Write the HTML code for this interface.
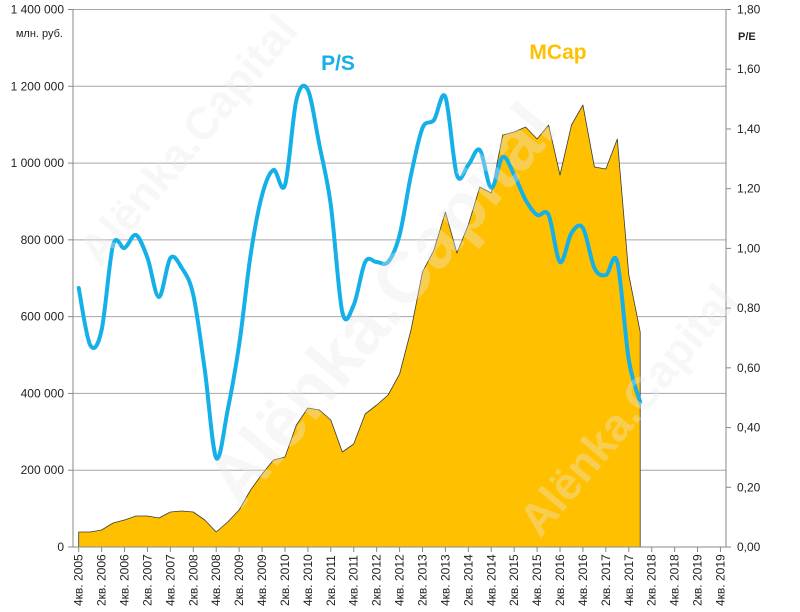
<!DOCTYPE html>
<html><head><meta charset="utf-8"><style>
body{margin:0;background:#fff;}
svg{display:block;font-family:"Liberation Sans",sans-serif;}
</style></head><body>
<svg width="800" height="612" viewBox="0 0 800 612" xmlns="http://www.w3.org/2000/svg">
<rect width="800" height="612" fill="#fff"/>
<g id="grid" stroke="#a6a6a6" stroke-width="1"></g>
<path id="mcap" fill="#ffc000" stroke="#3a3a3a" stroke-width="0.8" stroke-linejoin="round"/>
<path id="ps" fill="none" stroke="#15b0e8" stroke-width="4" stroke-linejoin="round" stroke-linecap="round"/>
<g id="axes" stroke="#888" stroke-width="1"></g>
<g id="labels" font-size="12" fill="#222"></g>
<text x="63" y="37" font-size="11" text-anchor="end" fill="#222">млн. руб.</text>
<text x="738" y="40" font-size="11" font-weight="bold" fill="#222">P/E</text>
<text x="338" y="70" font-size="21" font-weight="bold" fill="#15b0e8" text-anchor="middle">P/S</text>
<text x="558" y="59" font-size="21" font-weight="bold" fill="#ffc000" text-anchor="middle">MCap</text>
<g fill="#e8e8e8" opacity="0.35" font-weight="bold">
<text x="400" y="320" font-size="72" transform="rotate(-50 400 320)" text-anchor="middle">Alёnka.Capital</text>
<text x="200" y="150" font-size="45" transform="rotate(-50 200 150)" text-anchor="middle">Alёnka.Capital</text>
<text x="640" y="420" font-size="45" transform="rotate(-50 640 420)" text-anchor="middle">Alёnka.Capital</text>
</g>
</svg>
<script>
(function(){
const NS="http://www.w3.org/2000/svg";
const X=i=>78.7+11.46*i;
const T=9.5,B=547,L=73,R=726;
const grid=document.getElementById('grid'),axes=document.getElementById('axes'),lab=document.getElementById('labels');
function el(p,t,a,txt){const e=document.createElementNS(NS,t);for(const k in a)e.setAttribute(k,a[k]);if(txt!=null)e.textContent=txt;p.appendChild(e);return e;}
const lv=["0","200 000","400 000","600 000","800 000","1 000 000","1 200 000","1 400 000"];
const rv=["0,00","0,20","0,40","0,60","0,80","1,00","1,20","1,40","1,60","1,80"];
for(let k=0;k<8;k++){const y=B-(B-T)*k/7;if(k>0)el(grid,'line',{x1:L,x2:R,y1:y,y2:y});el(axes,'line',{x1:L-5,x2:L,y1:y,y2:y});el(lab,'text',{x:64,y:y+4,'text-anchor':'end'},lv[k]);}
for(let k=0;k<10;k++){const y=B-(B-T)*k/9;el(axes,'line',{x1:R,x2:R+5,y1:y,y2:y});el(lab,'text',{x:737,y:y+4},rv[k]);}
el(axes,'line',{x1:L,x2:L,y1:T,y2:B});el(axes,'line',{x1:R,x2:R,y1:T,y2:B});el(axes,'line',{x1:L,x2:R,y1:B,y2:B});
for(let i=0;i<=56;i+=2){const x=X(i);el(axes,'line',{x1:x,x2:x,y1:B,y2:B+5});const yr=2005+Math.floor((i+3)/4);const q=(i%4==0)?4:2;
el(lab,'text',{x:0,y:0,transform:`translate(${x+4},606) rotate(-90)`,'font-size':'12'},`${q}кв. ${yr}`);}
const m=[532,532,530,523,520,516,516,518,512,511,512,520,532,522,510,490,474,460,457,425,408,410,420,452,444,414,405,395,374,330,272,250,212,253,225,187,193,135,132,127,139,125,175,125,105,167,169,139,275,332];
let d=`M${X(0)},${B}`;m.forEach((y,i)=>d+=` L${X(i).toFixed(1)},${y}`);d+=` L${X(49).toFixed(1)},${B}Z`;
document.getElementById('mcap').setAttribute('d',d);
const p=[288,345,330,245,248,235,258,297,258,268,295,370,458,410,345,255,195,170,185,100,90,145,205,312,305,262,262,262,235,175,128,120,97,175,165,150,188,157,175,200,215,215,262,233,228,268,275,262,360,402];
const pts=p.map((y,i)=>[X(i),y]);
let s=`M${pts[0][0]},${pts[0][1]}`;
for(let i=0;i<pts.length-1;i++){const p0=pts[Math.max(0,i-1)],p1=pts[i],p2=pts[i+1],p3=pts[Math.min(pts.length-1,i+2)];
const c1=[p1[0]+(p2[0]-p0[0])/6,p1[1]+(p2[1]-p0[1])/6],c2=[p2[0]-(p3[0]-p1[0])/6,p2[1]-(p3[1]-p1[1])/6];
s+=` C${c1[0].toFixed(1)},${c1[1].toFixed(1)} ${c2[0].toFixed(1)},${c2[1].toFixed(1)} ${p2[0].toFixed(1)},${p2[1]}`;}
document.getElementById('ps').setAttribute('d',s);
})();
</script>
</body></html>
